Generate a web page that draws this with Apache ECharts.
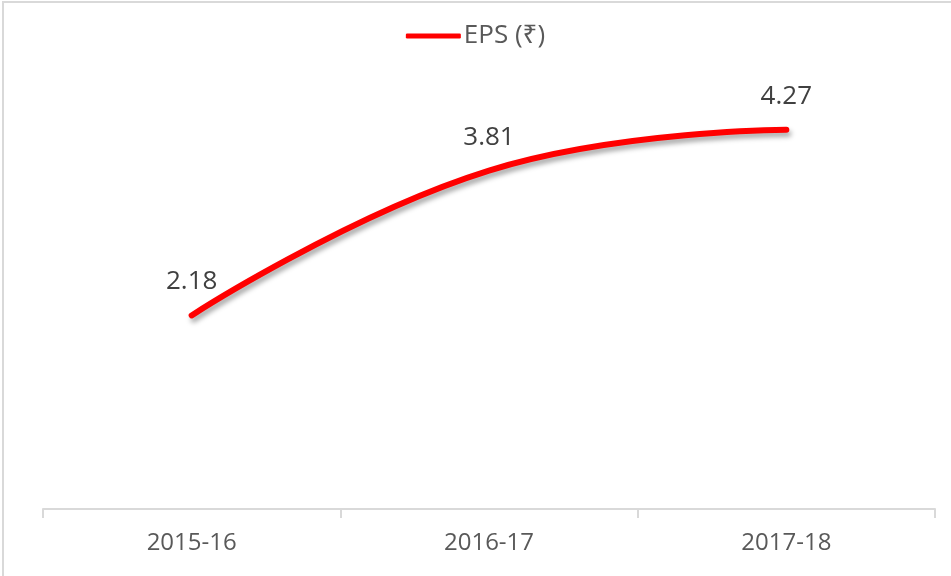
<!DOCTYPE html>
<html>
<head>
<meta charset="utf-8">
<script src="https://cdn.jsdelivr.net/npm/echarts@6/dist/echarts.min.js"></script>
<style>
  html, body { margin: 0; padding: 0; background: #fff; overflow: hidden; }
  #frame { position: absolute; left: 2px; top: 1px; width: 960px; height: 590px;
           border: 2px solid #d9d9d9; box-sizing: border-box; }
  #chart { position: absolute; left: 0; top: 0; width: 951px; height: 576px; }
</style>
</head>
<body>
<div id="frame"></div>
<div id="chart"></div>
<script>
// data
const years = ['2015-16', '2016-17', '2017-18']
const eps = [2.18, 3.81, 4.27]
const seriesName = 'EPS (₹)'

const chart = echarts.init(document.getElementById('chart'))
const font = '"Open Sans", "Noto Sans", "DejaVu Sans", sans-serif'

chart.setOption({
  animation: false,
  textStyle: { fontFamily: font },
  legend: {
    top: 18,
    left: 'center',
    icon: 'roundRect',
    itemWidth: 55,
    itemHeight: 5,
    itemGap: 10,
    textStyle: { fontSize: 26, color: '#595959', fontFamily: font, padding: [0, 0, 0, -2] },
    data: [seriesName]
  },
  grid: { left: 43, right: 16, top: 65, bottom: 67 },
  xAxis: {
    type: 'category',
    data: years,
    boundaryGap: true,
    axisLine: { lineStyle: { color: '#d9d9d9', width: 2 } },
    axisTick: { show: true, length: 9, lineStyle: { color: '#d9d9d9', width: 2 } },
    axisLabel: { fontSize: 24, color: '#595959', margin: 22 }
  },
  yAxis: {
    type: 'value',
    min: 0,
    max: 5,
    show: false,
    splitLine: { show: false }
  },
  series: [{
    name: seriesName,
    type: 'line',
    data: eps,
    smooth: 0.45,
    symbol: 'circle',
    symbolSize: 1,
    lineStyle: {
      color: '#ff0000',
      width: 6,
      cap: 'round',
      shadowColor: 'rgba(0,0,0,0.35)',
      shadowBlur: 5,
      shadowOffsetX: 2,
      shadowOffsetY: 4
    },
    itemStyle: { color: '#ff0000' },
    label: {
      show: true,
      position: 'top',
      distance: 20,
      fontSize: 26,
      color: '#404040'
    }
  }]
})
</script>
</body>
</html>
